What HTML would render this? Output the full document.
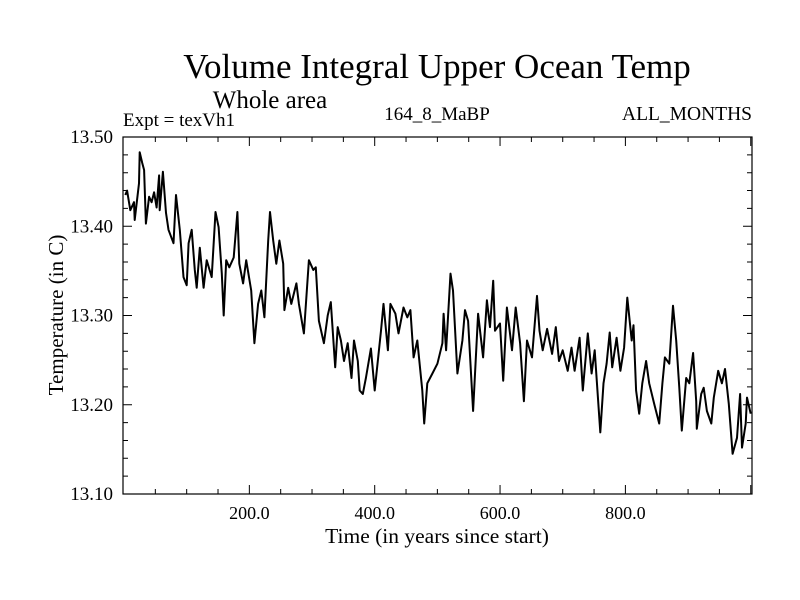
<!DOCTYPE html>
<html><head><meta charset="utf-8"><style>
html,body{margin:0;padding:0;background:#fff;}
svg{display:block;font-family:"Liberation Serif",serif;}
</style></head><body>
<svg id="chart" width="800" height="600" viewBox="0 0 800 600">
<rect width="800" height="600" fill="#fff"/>
<text x="437" y="78" font-size="35" text-anchor="middle">Volume Integral Upper Ocean Temp</text>
<text x="270" y="108" font-size="25" text-anchor="middle">Whole area</text>
<text x="123" y="126" font-size="19">Expt = texVh1</text>
<text x="437" y="120" font-size="19" text-anchor="middle">164_8_MaBP</text>
<text x="752" y="120" font-size="19.5" text-anchor="end">ALL_MONTHS</text>
<text x="437" y="543" font-size="21.5" text-anchor="middle">Time (in years since start)</text>
<text x="0" y="0" font-size="21" text-anchor="middle" transform="translate(63,315) rotate(-90)">Temperature (in C)</text>
<g id="axes"></g>
<g id="series"></g>
</svg>
<script>
const years=[2,5,10,16,17,24,25,29,32,35,40,44,48,52,56,57,62,67,71,79,83,89,95,100,103,108,113,116,121,127,132,140,146,151,156,159,163,168,175,181,184,190,195,203,208,214,219,224,230,233,238,243,248,254,256,262,267,275,279,287,295,302,306,311,319,325,330,337,341,346,351,357,363,367,373,376,381,386,394,400,410,414,421,425,433,438,446,452,457,462,468,476,479,484,492,500,508,510,514,521,525,532,540,544,549,557,565,573,579,584,589,592,600,605,611,619,625,632,638,643,651,659,663,668,675,683,689,694,700,708,714,719,727,732,740,746,751,760,765,770,775,779,786,792,798,803,810,813,817,822,827,833,838,846,854,859,863,870,876,881,886,890,897,902,908,913,914,921,925,930,937,941,948,954,959,965,971,978,983,986,992,994,1000];
const temps=[13.435,13.440,13.418,13.427,13.407,13.448,13.483,13.471,13.463,13.403,13.433,13.427,13.438,13.421,13.457,13.418,13.461,13.415,13.396,13.381,13.435,13.396,13.343,13.334,13.381,13.396,13.351,13.331,13.376,13.331,13.362,13.343,13.416,13.399,13.347,13.300,13.362,13.354,13.365,13.416,13.358,13.336,13.362,13.328,13.269,13.313,13.328,13.298,13.384,13.416,13.384,13.358,13.384,13.358,13.306,13.331,13.313,13.336,13.313,13.280,13.362,13.351,13.354,13.294,13.269,13.300,13.315,13.242,13.287,13.272,13.249,13.269,13.230,13.272,13.249,13.216,13.212,13.230,13.263,13.216,13.283,13.313,13.261,13.313,13.302,13.280,13.309,13.298,13.306,13.253,13.272,13.216,13.179,13.224,13.235,13.246,13.269,13.302,13.261,13.347,13.328,13.235,13.272,13.306,13.294,13.193,13.302,13.253,13.317,13.287,13.339,13.283,13.291,13.227,13.309,13.261,13.309,13.269,13.204,13.272,13.253,13.322,13.283,13.261,13.285,13.257,13.287,13.249,13.261,13.238,13.264,13.238,13.275,13.216,13.280,13.235,13.261,13.169,13.224,13.246,13.281,13.242,13.275,13.238,13.264,13.320,13.272,13.289,13.216,13.190,13.224,13.249,13.224,13.201,13.179,13.224,13.253,13.246,13.311,13.272,13.219,13.171,13.230,13.224,13.258,13.204,13.173,13.212,13.219,13.193,13.179,13.208,13.238,13.224,13.240,13.201,13.145,13.163,13.212,13.152,13.179,13.208,13.190];
const xMajorTicks=[200,400,600,800];
const xTickLabels=["200.0","400.0","600.0","800.0"];
const yMajorTicks=[13.1,13.2,13.3,13.4,13.5];
const yTickLabels=["13.10","13.20","13.30","13.40","13.50"];

const L=123,R=752,T=137,B=494;
const X0=0,X1=1002,Y0=13.1,Y1=13.5;
function sx(v){return 124+(v-X0)*(R-124)/(X1-X0);}
function sy(v){return B-(v-Y0)*(B-T)/(Y1-Y0);}
const NS='http://www.w3.org/2000/svg';
const axes=document.getElementById('axes');
function mk(tag,attrs,parent){const e=document.createElementNS(NS,tag);for(const k in attrs)e.setAttribute(k,attrs[k]);parent.appendChild(e);return e;}
const frame=mk('rect',{x:L,y:T,width:R-L,height:B-T,fill:'none',stroke:'#000','stroke-width':1.2},axes);


for(let v=50;v<X1;v+=50){
  const major=v%200===0;const len=major?9:5;const x=sx(v);
  const t=mk('path',{d:`M${x},${B}V${B-len}M${x},${T}V${T+len}`,stroke:'#000','stroke-width':1},axes);
  
  
}
xMajorTicks.forEach((v,i)=>{
  const t=mk('text',{x:sx(v),y:B+25,'font-size':18,'text-anchor':'middle'},axes);t.textContent=xTickLabels[i];
  
  
});
for(let k=1;k<20;k++){
  const v=Y0+k*0.02;const major=k%5===0;const len=major?9:5;const y=sy(v);
  const t=mk('path',{d:`M${L},${y}H${L+len}M${R},${y}H${R-len}`,stroke:'#000','stroke-width':1},axes);
  
  
}
yMajorTicks.forEach((v,i)=>{
  const t=mk('text',{x:113,y:sy(v)+6,'font-size':19,'text-anchor':'end'},axes);t.textContent=yTickLabels[i];
  
  
});
const d=years.map((yr,i)=>(i?'L':'M')+sx(yr).toFixed(1)+','+sy(temps[i]).toFixed(1)).join('');
const line=mk('path',{d:d,fill:'none',stroke:'#000','stroke-width':2,'stroke-linejoin':'round'},document.getElementById('series'));


</script>
</body></html>
